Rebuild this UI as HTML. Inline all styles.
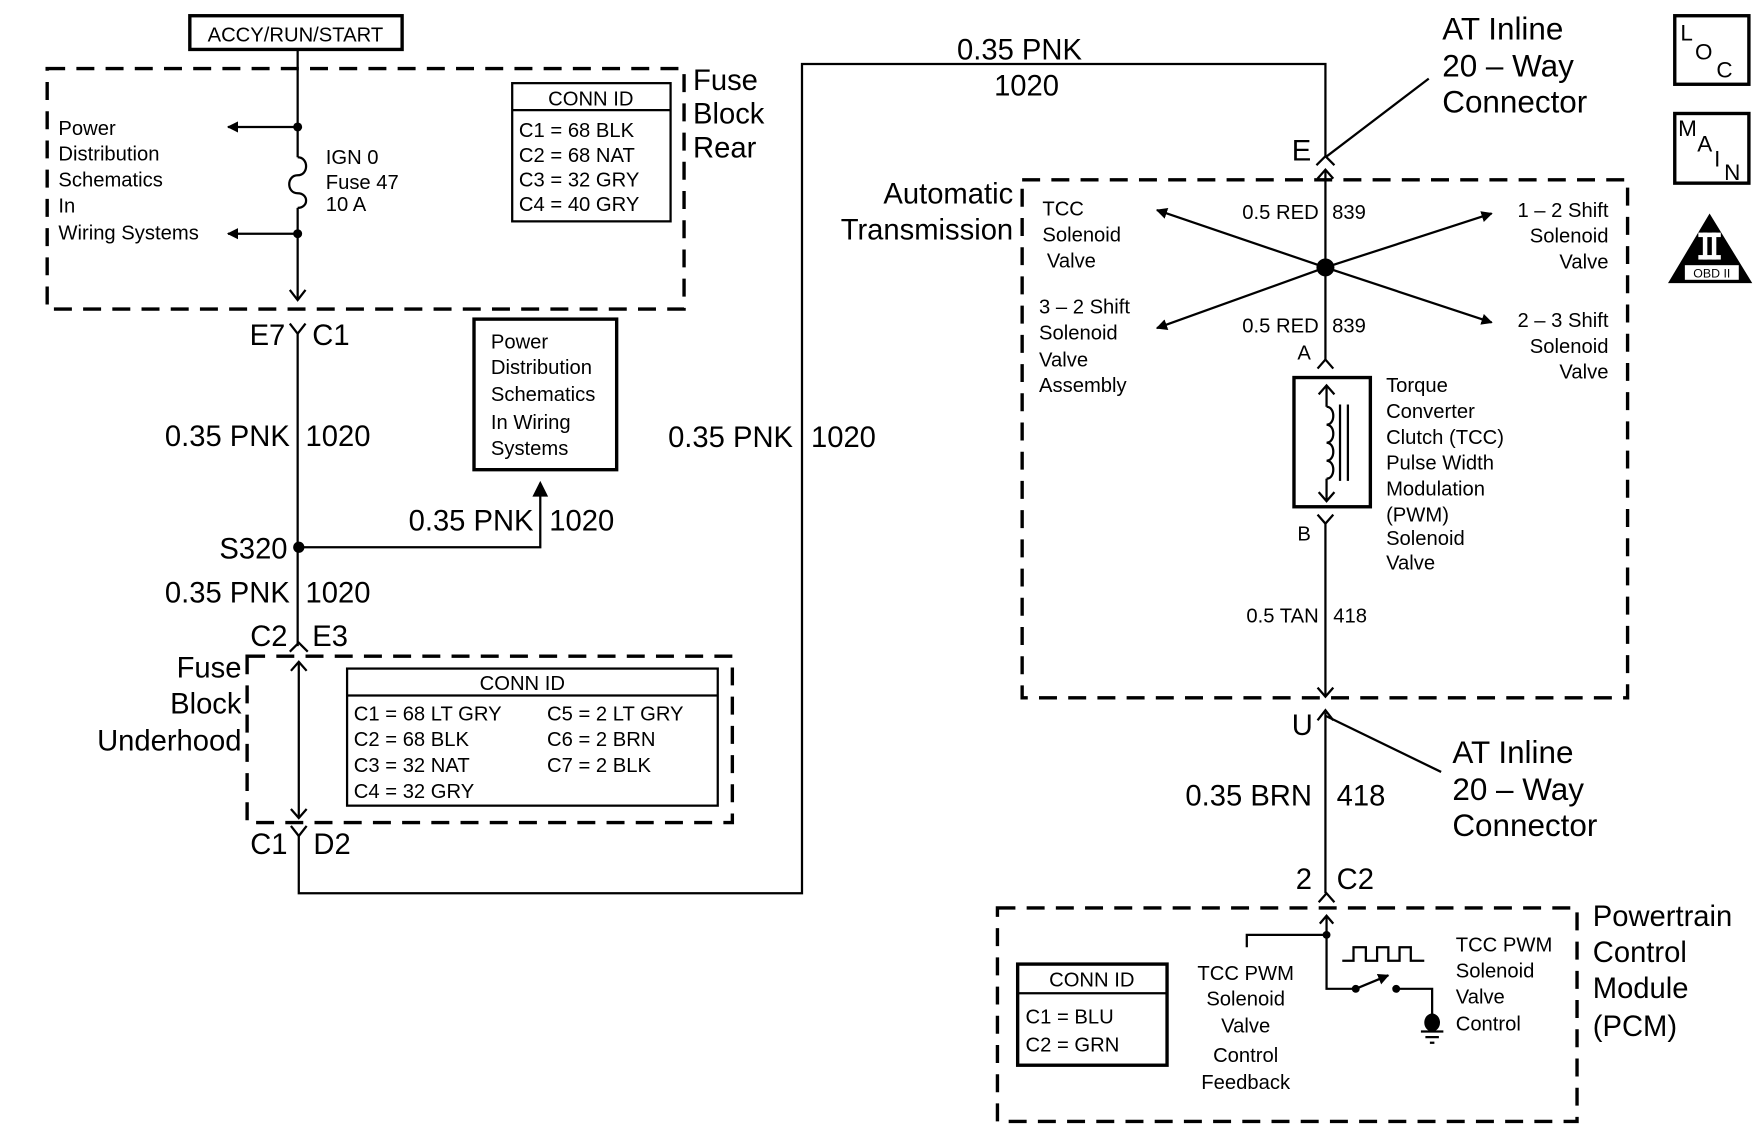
<!DOCTYPE html>
<html><head><meta charset="utf-8"><style>
html,body{margin:0;padding:0;background:#fff;}
svg{display:block;}
text{font-family:"Liberation Sans",Arial,sans-serif;fill:#000;}
.s{font-size:18px;}
.b{font-size:26px;}
.d{fill:none;stroke:#000;stroke-width:3;stroke-dasharray:16 10;}
.l{fill:none;stroke:#000;stroke-width:2;}
.t{fill:none;stroke:#000;stroke-width:3;}
</style></head><body>
<svg width="1759" height="1145" viewBox="0 0 1566 1019" preserveAspectRatio="none" xmlns="http://www.w3.org/2000/svg">
<defs>
<marker id="fa" markerWidth="10" markerHeight="10" refX="9" refY="5" orient="auto" markerUnits="userSpaceOnUse"><path d="M0,0 L10,5 L0,10 Z"/></marker>
</defs>
<rect x="169" y="14" width="189" height="30" class="t"/>
<text x="263" y="37" class="s" text-anchor="middle">ACCY/RUN/START</text>
<rect x="42" y="61" width="567" height="214" class="d"/>
<line x1="265" y1="44" x2="265" y2="140" class="l"/>
<path d="M265,140 c10,0 10,16 0,16 c-10,0 -10,16 0,16 c10,0 10,13 0,13" class="l"/>
<line x1="265" y1="185" x2="265" y2="266" class="l"/>
<path d="M258,258 L265,267 L272,258" class="l"/>
<circle cx="265" cy="113" r="4"/><circle cx="265" cy="208" r="4"/>
<line x1="265" y1="113" x2="203" y2="113" class="l" marker-end="url(#fa)"/>
<line x1="265" y1="208" x2="203" y2="208" class="l" marker-end="url(#fa)"/>
<g class="s"><text x="52" y="120">Power</text><text x="52" y="143">Distribution</text><text x="52" y="166">Schematics</text><text x="52" y="189">In</text><text x="52" y="213">Wiring Systems</text>
<text x="290" y="146">IGN 0</text><text x="290" y="168">Fuse  47</text><text x="290" y="188">10 A</text></g>
<rect x="456" y="74" width="141" height="123" class="l"/>
<line x1="456" y1="98" x2="597" y2="98" class="l"/>
<g class="s"><text x="526" y="94" text-anchor="middle">CONN ID</text>
<text x="462" y="122">C1 = 68 BLK</text><text x="462" y="144">C2 = 68 NAT</text><text x="462" y="166">C3 = 32 GRY</text><text x="462" y="188">C4 = 40 GRY</text></g>
<g class="b"><text x="617" y="80">Fuse</text><text x="617" y="110">Block</text><text x="617" y="140">Rear</text></g>
<path d="M258,288 L265,297 L272,288" class="l"/>
<text x="254" y="307" class="b" text-anchor="end">E7</text><text x="278" y="307" class="b">C1</text>
<line x1="265" y1="297" x2="265" y2="575" class="l"/>
<g class="b"><text x="258" y="397" text-anchor="end">0.35 PNK</text><text x="272" y="397">1020</text></g>
<circle cx="266" cy="487" r="5"/>
<text x="256" y="497" class="b" text-anchor="end">S320</text>
<polyline points="266,487 481,487 481,430" class="l"/>
<path d="M474,442 L481,428 L488,442 Z"/>
<g class="b"><text x="475" y="472" text-anchor="end">0.35 PNK</text><text x="489" y="472">1020</text>
<text x="258" y="536" text-anchor="end">0.35 PNK</text><text x="272" y="536">1020</text></g>
<rect x="422" y="284" width="127" height="134" class="t"/>
<g class="s"><text x="437" y="310">Power</text><text x="437" y="333">Distribution</text><text x="437" y="357">Schematics</text><text x="437" y="382">In Wiring</text><text x="437" y="405">Systems</text></g>
<path d="M258,580 L266,572 L274,580" class="l"/>
<text x="256" y="575" class="b" text-anchor="end">C2</text><text x="278" y="575" class="b">E3</text>
<rect x="220" y="584" width="432" height="148" class="d"/>
<line x1="266" y1="589" x2="266" y2="728" class="l"/>
<path d="M259,597 L266,589 L273,597 M259,720 L266,728 L273,720" class="l"/>
<rect x="309" y="595" width="330" height="122" class="l"/>
<line x1="309" y1="619" x2="639" y2="619" class="l"/>
<g class="s"><text x="465" y="614" text-anchor="middle">CONN ID</text>
<text x="315" y="641">C1 = 68 LT GRY</text><text x="315" y="664">C2 = 68 BLK</text><text x="315" y="687">C3 = 32 NAT</text><text x="315" y="710">C4 = 32 GRY</text>
<text x="487" y="641">C5 = 2 LT GRY</text><text x="487" y="664">C6 = 2 BRN</text><text x="487" y="687">C7 = 2 BLK</text></g>
<g class="b" text-anchor="end"><text x="215" y="603">Fuse</text><text x="215" y="635">Block</text><text x="215" y="668">Underhood</text></g>
<path d="M259,735 L266,744 L273,735" class="l"/>
<text x="256" y="760" class="b" text-anchor="end">C1</text><text x="279" y="760" class="b">D2</text>
<polyline points="266,744 266,795 714,795 714,57 1180,57 1180,140" class="l"/>
<g class="b"><text x="852" y="53">0.35 PNK</text><text x="885" y="85">1020</text>
<text x="706" y="398" text-anchor="end">0.35 PNK</text><text x="722" y="398">1020</text></g>
<g style="font-size:28px"><text x="1284" y="35">AT Inline</text><text x="1284" y="68">20 – Way</text><text x="1284" y="100">Connector</text></g>
<line x1="1180" y1="140" x2="1272" y2="70" class="l"/>
<path d="M1172,147 L1180,139 L1188,147" class="l"/>
<text x="1150" y="143" class="b">E</text>
<rect x="910" y="160" width="539" height="461" class="d"/>
<g class="b" text-anchor="end"><text x="902" y="181">Automatic</text><text x="902" y="213">Transmission</text></g>
<line x1="1180" y1="151" x2="1180" y2="320" class="l"/>
<path d="M1173,159 L1180,151 L1187,159" class="l"/>
<circle cx="1180" cy="238" r="8"/>
<line x1="1180" y1="238" x2="1030" y2="187" class="l" marker-end="url(#fa)"/>
<line x1="1180" y1="238" x2="1030" y2="292" class="l" marker-end="url(#fa)"/>
<line x1="1180" y1="238" x2="1328" y2="190" class="l" marker-end="url(#fa)"/>
<line x1="1180" y1="238" x2="1328" y2="287" class="l" marker-end="url(#fa)"/>
<g class="s"><text x="1174" y="195" text-anchor="end">0.5 RED</text><text x="1186" y="195">839</text>
<text x="1174" y="296" text-anchor="end">0.5 RED</text><text x="1186" y="296">839</text>
<text x="928" y="192">TCC</text><text x="928" y="215">Solenoid</text><text x="932" y="238">Valve</text>
<text x="925" y="279">3 – 2 Shift</text><text x="925" y="302">Solenoid</text><text x="925" y="326">Valve</text><text x="925" y="349">Assembly</text>
<g text-anchor="end"><text x="1432" y="193">1 – 2 Shift</text><text x="1432" y="216">Solenoid</text><text x="1432" y="239">Valve</text>
<text x="1432" y="291">2 – 3 Shift</text><text x="1432" y="314">Solenoid</text><text x="1432" y="337">Valve</text></g>
<text x="1155" y="320">A</text><text x="1155" y="481">B</text>
<text x="1234" y="349">Torque</text><text x="1234" y="372">Converter</text><text x="1234" y="395">Clutch (TCC)</text><text x="1234" y="418">Pulse Width</text><text x="1234" y="441">Modulation</text><text x="1234" y="464">(PWM)</text><text x="1234" y="485">Solenoid</text><text x="1234" y="507">Valve</text>
<text x="1174" y="554" text-anchor="end">0.5 TAN</text><text x="1187" y="554">418</text></g>
<path d="M1173,328 L1180,320 L1187,328" class="l"/>
<rect x="1152" y="336" width="68" height="115" class="t"/>
<line x1="1181" y1="343" x2="1181" y2="362" class="l"/>
<path d="M1181,362 c8,0 8,16 0,16 c8,0 8,16 0,16 c8,0 8,16 0,16 c8,0 8,16 0,16" class="l"/>
<line x1="1181" y1="426" x2="1181" y2="446" class="l"/>
<path d="M1174,351 L1181,343 L1188,351 M1174,438 L1181,446 L1188,438" class="l"/>
<line x1="1193" y1="360" x2="1193" y2="428" class="l"/><line x1="1200" y1="360" x2="1200" y2="428" class="l"/>
<path d="M1173,458 L1180,466 L1187,458" class="l"/>
<line x1="1180" y1="466" x2="1180" y2="620" class="l"/>
<path d="M1173,612 L1180,620 L1187,612" class="l"/>
<path d="M1173,641 L1180,632 L1187,641" class="l"/>
<text x="1150" y="654" class="b">U</text>
<line x1="1180" y1="637" x2="1283" y2="687" class="l"/>
<line x1="1180" y1="634" x2="1180" y2="795" class="l"/>
<g style="font-size:28px"><text x="1293" y="679">AT Inline</text><text x="1293" y="712">20 – Way</text><text x="1293" y="744">Connector</text></g>
<g class="b"><text x="1168" y="717" text-anchor="end">0.35 BRN</text><text x="1190" y="717">418</text>
<text x="1168" y="791" text-anchor="end">2</text><text x="1190" y="791">C2</text></g>
<path d="M1174,803 L1181,795 L1188,803" class="l"/>
<rect x="888" y="808" width="516" height="190" class="d"/>
<g class="b"><text x="1418" y="824">Powertrain</text><text x="1418" y="856">Control</text><text x="1418" y="888">Module</text><text x="1418" y="922">(PCM)</text></g>
<path d="M1175,822 L1181,815 L1187,822" class="l"/>
<polyline points="1181,815 1181,880 1205,880" class="l"/>
<polyline points="1181,832 1110,832 1110,843" class="l"/>
<circle cx="1181" cy="832" r="3.5"/>
<circle cx="1207" cy="880" r="3.5"/><circle cx="1243" cy="880" r="3.5"/>
<line x1="1207" y1="880" x2="1236" y2="868" class="l" marker-end="url(#fa)"/>
<polyline points="1243,880 1275,880 1275,903" class="l"/>
<ellipse cx="1275" cy="910" rx="7" ry="8"/>
<path d="M1265,918 L1285,918 M1269,923 L1281,923 M1273,928 L1277,928" class="l"/>
<polyline points="1195,855 1205,855 1205,843 1216,843 1216,855 1226,855 1226,843 1236,843 1236,855 1246,855 1246,843 1256,843 1256,855 1268,855" class="l"/>
<rect x="906" y="858" width="133" height="90" class="t"/>
<line x1="906" y1="884" x2="1039" y2="884" class="l"/>
<g class="s"><text x="972" y="878" text-anchor="middle">CONN ID</text>
<text x="913" y="911">C1 = BLU</text><text x="913" y="936">C2 = GRN</text>
<g text-anchor="middle"><text x="1109" y="872">TCC PWM</text><text x="1109" y="895">Solenoid</text><text x="1109" y="919">Valve</text><text x="1109" y="945">Control</text><text x="1109" y="969">Feedback</text></g>
<text x="1296" y="847">TCC PWM</text><text x="1296" y="870">Solenoid</text><text x="1296" y="893">Valve</text><text x="1296" y="917">Control</text></g>
<rect x="1491" y="14" width="66" height="61" class="t"/>
<g style="font-size:20px"><text x="1496" y="36">L</text><text x="1509" y="53">O</text><text x="1528" y="69">C</text></g>
<rect x="1491" y="101" width="66" height="62" class="t"/>
<g style="font-size:20px"><text x="1494" y="121">M</text><text x="1511" y="135">A</text><text x="1526" y="148">I</text><text x="1535" y="160">N</text></g>
<path d="M1522,190 L1485,252 L1560,252 Z"/>
<g fill="#fff"><rect x="1512" y="207" width="20" height="4"/><rect x="1512" y="227" width="20" height="4"/>
<rect x="1516" y="207" width="4" height="24"/><rect x="1524" y="207" width="4" height="24"/></g>
<rect x="1500" y="236" width="48" height="13" fill="#fff"/>
<text x="1524" y="247" style="font-size:11px" text-anchor="middle">OBD II</text>
</svg>
</body></html>
